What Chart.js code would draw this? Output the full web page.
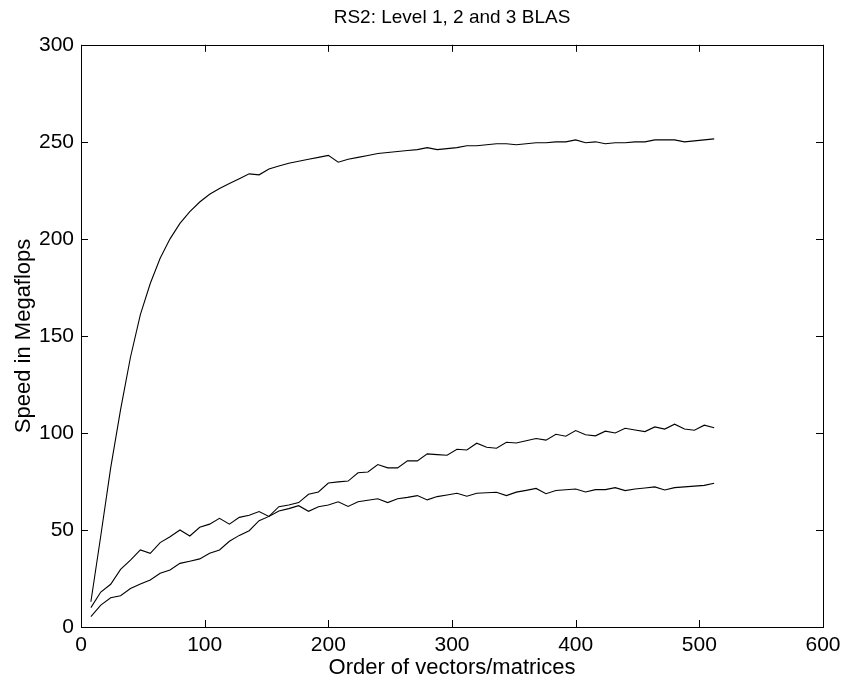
<!DOCTYPE html>
<html>
<head>
<meta charset="utf-8">
<script src="https://cdn.jsdelivr.net/npm/chart.js@4/dist/chart.umd.min.js"></script>
<style>
  html, body { margin: 0; padding: 0; background: #fff; }
  #wrap { width: 841px; height: 681px; }
</style>
</head>
<body>
<div id="wrap"><canvas id="blasChart" width="841" height="681"></canvas></div>
<script>
// problem sizes (order of vectors/matrices)
const orders = [];
for (let n = 8; n <= 512; n += 8) orders.push(n);

// speed in Megaflops
const level3 = [13, 47, 82, 112, 139, 161, 177, 190, 200, 208, 214, 219, 223, 226, 228.5, 231,
  233.5, 233, 236, 237.5, 239, 240, 241, 242, 243, 239.5, 241, 242, 243, 244, 244.5, 245,
  245.5, 246, 247, 246, 246.5, 247, 248, 248, 248.5, 249, 249, 248.5, 249, 249.5, 249.5, 250,
  250, 251, 249.5, 250, 249, 249.5, 249.5, 250, 250, 251, 251, 251, 250, 250.5, 251, 251.5];

const level2 = [5.3, 11.3, 15.1, 16.1, 19.8, 22.2, 24.2, 27.7, 29.4, 32.8, 33.9, 35.1, 38, 39.7, 44.2, 47.2,
  49.6, 54.8, 57, 62, 62.9, 64.1, 68.4, 69.6, 74.2, 74.8, 75.2, 79.5, 79.9, 83.7, 82, 82,
  85.6, 85.6, 89.2, 88.8, 88.5, 91.6, 91.2, 94.7, 92.6, 92.1, 95.2, 94.8, 96, 97.1, 96.3, 99.3,
  98.3, 101.2, 99.1, 98.5, 100.9, 100, 102.4, 101.5, 100.7, 103.1, 102, 104.5, 102, 101.4, 104, 102.7];

const level1 = [10, 18, 22, 29.7, 34.5, 39.7, 38, 43.5, 46.5, 50, 46.9, 51.4, 53, 56, 53, 56.5,
  57.6, 59.5, 57, 59.8, 61, 62.5, 59.6, 62, 62.9, 64.5, 62.1, 64.5, 65.3, 66.1, 64.1, 66.1,
  66.8, 67.7, 65.5, 67.2, 68, 68.9, 67.4, 68.9, 69.2, 69.4, 67.7, 69.5, 70.4, 71.4, 68.7, 70.3,
  70.7, 71.1, 69.6, 70.8, 70.8, 71.8, 70.3, 71.1, 71.6, 72.2, 70.6, 71.8, 72.2, 72.6, 73, 74.1];

const xTicks = [0, 100, 200, 300, 400, 500, 600];
const yTicks = [0, 50, 100, 150, 200, 250, 300];

function toPoints(values) {
    return values.map((v, i) => ({ x: orders[i], y: v }));
}

function lineSet(label, values) {
    return {
        label: label,
        data: toPoints(values),
        borderColor: '#000',
        borderWidth: 1.1,
        pointRadius: 0,
        tension: 0,
        fill: false
    };
}

// box round the plot plus inward ticks on all four sides
const frameTicks = {
    id: 'frameTicks',
    afterDraw(chart) {
        const ctx = chart.ctx;
        const a = chart.chartArea;
        const xs = chart.scales.x;
        const ys = chart.scales.y;
        const len = 7;
        ctx.save();
        ctx.strokeStyle = '#000';
        ctx.lineWidth = 1;
        ctx.strokeRect(Math.round(a.left) + 0.5, Math.round(a.top) + 0.5,
            Math.round(a.right - a.left), Math.round(a.bottom - a.top));
        ctx.beginPath();
        xTicks.forEach(t => {
            const px = Math.round(xs.getPixelForValue(t)) + 0.5;
            ctx.moveTo(px, a.bottom); ctx.lineTo(px, a.bottom - len);
            ctx.moveTo(px, a.top); ctx.lineTo(px, a.top + len);
        });
        yTicks.forEach(t => {
            const py = Math.round(ys.getPixelForValue(t)) + 0.5;
            ctx.moveTo(a.left, py); ctx.lineTo(a.left + len, py);
            ctx.moveTo(a.right, py); ctx.lineTo(a.right - len, py);
        });
        ctx.stroke();
        ctx.restore();
    }
};

const FONT = '"Liberation Sans", Arial, Helvetica, sans-serif';

new Chart(document.getElementById('blasChart').getContext('2d'), {
    type: 'line',
    data: {
        datasets: [
            lineSet('Level 3', level3),
            lineSet('Level 2', level2),
            lineSet('Level 1', level1)
        ]
    },
    options: {
        responsive: false,
        animation: false,
        layout: { padding: { left: 0, right: 18, top: 0, bottom: 0 } },
        plugins: {
            legend: { display: false },
            tooltip: { enabled: false },
            title: {
                display: true,
                fullSize: false,
                text: 'RS2: Level 1, 2 and 3 BLAS',
                color: '#000',
                font: { family: FONT, size: 19, weight: 'normal' },
                padding: { top: 6, bottom: 16 }
            }
        },
        scales: {
            x: {
                type: 'linear',
                min: 0,
                max: 600,
                afterBuildTicks: scale => { scale.ticks = xTicks.map(v => ({ value: v })); },
                afterFit: scale => {
                    scale.height = 54;
                    scale.paddingLeft = 0;
                    scale.paddingRight = 0;
                },
                grid: { drawOnChartArea: false, drawTicks: false },
                border: { display: false },
                ticks: { color: '#000', padding: 6, maxRotation: 0, font: { family: FONT, size: 21 } },
                title: {
                    display: true,
                    text: 'Order of vectors/matrices',
                    color: '#000',
                    font: { family: FONT, size: 22 },
                    padding: { top: 0, bottom: 0 }
                }
            },
            y: {
                type: 'linear',
                min: 0,
                max: 300,
                afterBuildTicks: scale => { scale.ticks = yTicks.map(v => ({ value: v })); },
                afterFit: scale => { scale.width = 81; },
                grid: { drawOnChartArea: false, drawTicks: false },
                border: { display: false },
                ticks: { color: '#000', padding: 7, font: { family: FONT, size: 21 } },
                title: {
                    display: true,
                    text: 'Speed in Megaflops',
                    color: '#000',
                    font: { family: FONT, size: 22 },
                    padding: { top: 11, bottom: 0 }
                }
            }
        }
    },
    plugins: [frameTicks]
});
</script>
</body>
</html>
